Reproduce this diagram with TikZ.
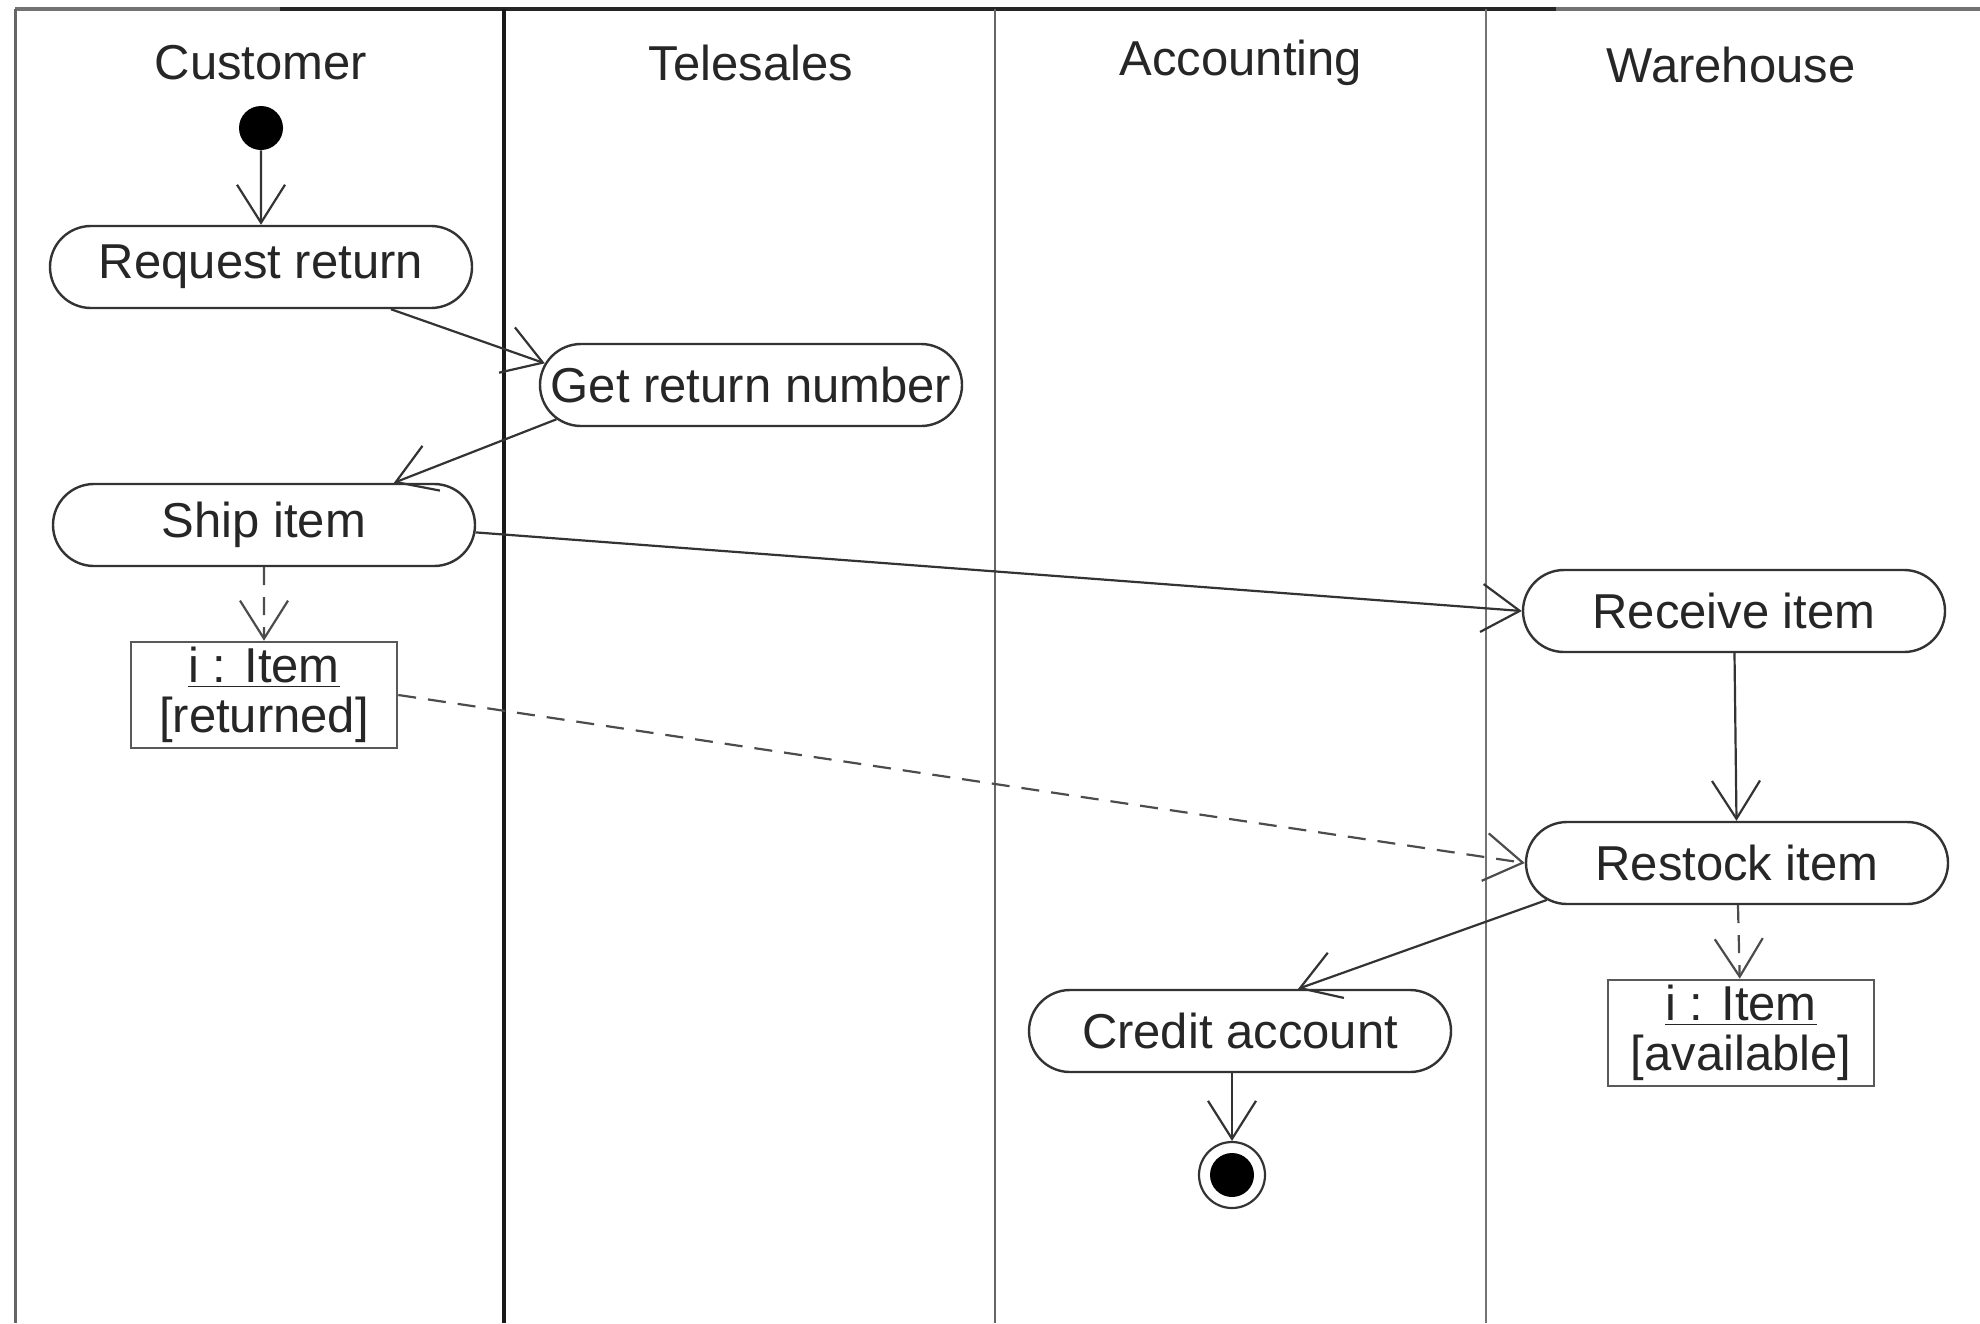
\documentclass[tikz,border=0pt]{standalone}
\usepackage{fontspec}
\setmainfont{Liberation Sans}
\usetikzlibrary{shapes.misc,arrows.meta}

\begin{document}
\begin{tikzpicture}
  [x=0.5pt,y=-0.5pt,
   every node/.style={font=\fontsize{24.5}{25}\selectfont,text=black!85},
   act/.style={rounded rectangle,draw=black!80,line width=1.2pt,minimum width=213pt,minimum height=41pt,inner sep=1pt},
   obj/.style={rectangle,draw=black!65,line width=1.3pt,minimum width=133pt,minimum height=53pt,align=center,inner sep=1pt},
   flow/.style={draw=black!80,line width=1.1pt,-{Straight Barb[length=19pt,width=24pt]}},
   objflow/.style={flow,draw=black!70,dash pattern=on 9pt off 6pt}]
  \useasboundingbox (0,0) rectangle (1980,1323);

  % swimlanes
  \draw[black!55,line width=2.2pt] (15,9) -- (280,9);
  \draw[black!85,line width=2.2pt] (280,9) -- (1556,9);
  \draw[black!55,line width=2.2pt] (1556,9) -- (1980,9);
  \draw[black!60,line width=1.5pt] (15,9) -- (15,1323);
  \draw[black!90,line width=1.9pt] (504,9) -- (504,1323);
  \draw[black!60,line width=1.2pt] (995,9) -- (995,1323);
  \draw[black!55,line width=1.2pt] (1486,9) -- (1486,1323);

  \node (cust) at (261,63) {Customer};
  \node (tele) at (751,63) {Telesales};
  \node (acct) at (1241,63) {Accounting};
  \node (ware) at (1731,65) {Warehouse};

  % activities
  \node[circle,fill=black,minimum size=22pt,inner sep=0] (init) at (261,128) {};
  \node[act] (req) at (261,267) {Request return};
  \node[act] (grn) at (751,385) {Get return number};
  \node[act] (ship) at (264,525) {Ship item};
  \node[obj] (ret) at (264,695) {\underline{i : Item}\\{[returned]}};
  \node[act] (recv) at (1734,611) {Receive item};
  \node[act] (rst) at (1737,863) {Restock item};
  \node[obj] (avail) at (1741,1033) {\underline{i : Item}\\{[available]}};
  \node[act] (cred) at (1240,1031) {Credit account};
  \node[circle,draw=black!80,line width=1.1pt,minimum size=33pt,inner sep=0,
        path picture={\fill[black] (path picture bounding box.center) circle[radius=11pt];}] (fin) at (1232,1175) {};

  \foreach \from/\to in {init/req, req.-18/grn.174, grn.190/ship.18, ship.-2/recv.west, recv/rst, rst.191/cred.36}
    \draw[flow] (\from) -- (\to);
  \draw[flow] (cred.south -| fin) -- (fin);

  \draw[objflow] (ship) -- (ret);
  \draw[objflow] (ret.east) -- (rst.west);
  \draw[objflow] (rst) -- (avail);

\end{tikzpicture}
\end{document}
